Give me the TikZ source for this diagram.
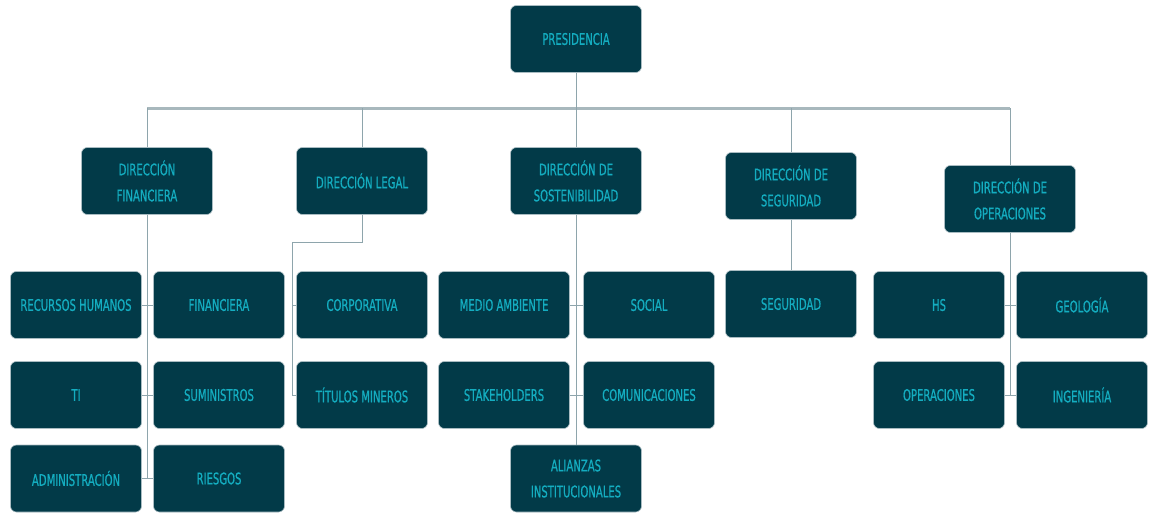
\documentclass[tikz,border=0pt]{standalone}
\usepackage{fontspec}
\newfontfamily\boxfont[FakeStretch=0.63,FakeBold=0.6]{DejaVu Sans}
\definecolor{boxfill}{HTML}{023A48}
\definecolor{boxtext}{HTML}{14ADC0}
\definecolor{boxedge}{HTML}{A9BCC2}
\definecolor{wire}{HTML}{8EA5AC}
\definecolor{buswire}{HTML}{A8B8BD}
\tikzset{
  unit/.style={rectangle, rounded corners=6pt, fill=boxfill, draw=boxedge, line width=0.6pt,
    minimum width=131pt, minimum height=67pt, inner sep=0pt, align=center,
    text=boxtext, font=\boxfont\fontsize{16}{26}\selectfont},
  link/.style={draw=wire, line width=1pt},
  bus/.style={draw=buswire, line width=3pt}
}
\begin{document}
\begin{tikzpicture}[x=1pt,y=-1pt]
\useasboundingbox (0,0) rectangle (1150,512);

% anchor points of the connector runs
\coordinate (busL) at (147,108);
\coordinate (busR) at (1010,108);
\coordinate (legalTurn) at (292,242);

% top level
\node[unit] (pres) at (576,39) {PRESIDENCIA};

% directorates
\node[unit] (df) at (147,181) {DIRECCIÓN\\FINANCIERA};
\node[unit] (dl) at (362,181) {DIRECCIÓN LEGAL};
\node[unit] (ds) at (576,181) {DIRECCIÓN DE\\SOSTENIBILIDAD};
\node[unit] (dseg) at (791,186) {DIRECCIÓN DE\\SEGURIDAD};
\node[unit] (dop) at (1010,199) {DIRECCIÓN DE\\OPERACIONES};

% horizontal bus and drops to the directorates
\path[bus] (busL) -- (busR);
\path[link] (pres.south) -- (pres.south |- busL);
\path[link] (busL) -- (df.north);
\path[link] (dl.north |- busL) -- (dl.north);
\path[link] (ds.north |- busL) -- (ds.north);
\path[link] (dseg.north |- busL) -- (dseg.north);
\path[link] (busR) -- (dop.north);

% financial area
\node[unit] (rh) at (76,305) {RECURSOS HUMANOS};
\node[unit] (fin) at (219,305) {FINANCIERA};
\node[unit] (ti) at (76,395) {TI};
\node[unit] (sum) at (219,395) {SUMINISTROS};
\node[unit] (adm) at (76,478.5) {ADMINISTRACIÓN};
\node[unit] (rie) at (219,478.5) {RIESGOS};
\path[link] (df.south) -- (df.south |- adm.east);
\path[link] (rh.east) -- (fin.west);
\path[link] (ti.east) -- (sum.west);
\path[link] (adm.east) -- (rie.west);

% legal area
\node[unit] (corp) at (362,305) {CORPORATIVA};
\node[unit] (tit) at (362,395) {TÍTULOS MINEROS};
\path[link] (dl.south) |- (legalTurn) -- (legalTurn |- tit.west) -- (tit.west);
\path[link] (legalTurn |- corp.west) -- (corp.west);

% sustainability area
\node[unit] (med) at (504,305) {MEDIO AMBIENTE};
\node[unit] (soc) at (649,305) {SOCIAL};
\node[unit] (stk) at (504,395) {STAKEHOLDERS};
\node[unit] (com) at (649,395) {COMUNICACIONES};
\node[unit] (ali) at (576,478.5) {ALIANZAS\\INSTITUCIONALES};
\path[link] (ds.south) -- (ali.north);
\path[link] (med.east) -- (soc.west);
\path[link] (stk.east) -- (com.west);

% security area
\node[unit] (seg) at (791,304) {SEGURIDAD};
\path[link] (dseg.south) -- (seg.north);

% operations area
\node[unit] (hs) at (939,305) {HS};
\node[unit] (geo) at (1082,305) {GEOLOGÍA};
\node[unit] (ope) at (939,395) {OPERACIONES};
\node[unit] (ing) at (1082,395) {INGENIERÍA};
\path[link] (dop.south) -- (dop.south |- ope.east);
\path[link] (hs.east) -- (geo.west);
\path[link] (ope.east) -- (ing.west);
\end{tikzpicture}
\end{document}
